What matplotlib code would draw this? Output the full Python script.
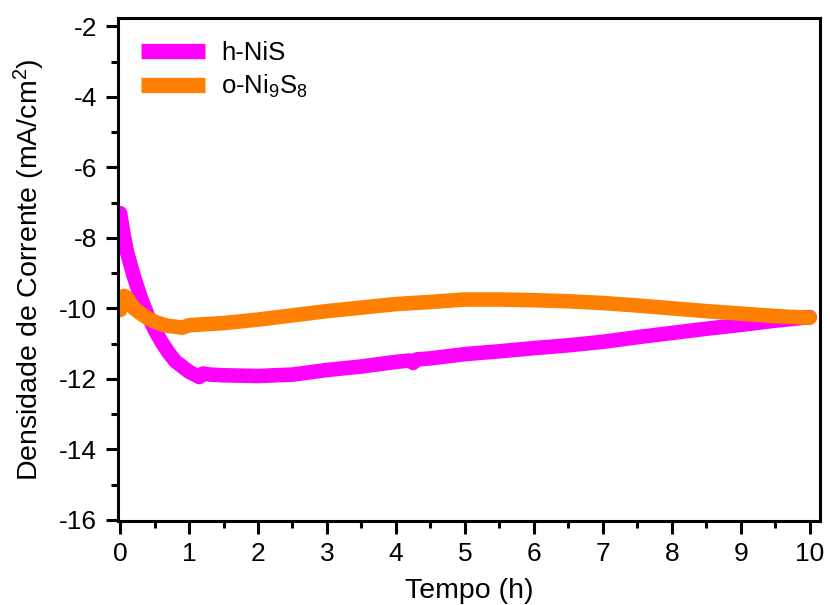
import matplotlib
matplotlib.use("Agg")
import matplotlib.pyplot as plt
from matplotlib.ticker import MultipleLocator

plt.rcParams['font.family'] = ['Liberation Sans', 'DejaVu Sans']
plt.rcParams['mathtext.fontset'] = 'custom'
plt.rcParams['mathtext.rm'] = 'Liberation Sans'
plt.rcParams['mathtext.it'] = 'Liberation Sans'
plt.rcParams['axes.unicode_minus'] = False

# h-NiS
t_nis = [0.0, 0.05, 0.1, 0.2, 0.3, 0.4, 0.5, 0.6, 0.7, 0.8, 0.9, 1.0, 1.1, 1.15, 1.2,
         1.3, 1.5, 2.0, 2.5, 3.0, 3.5, 4.0, 4.2, 4.25, 4.3, 4.5, 5.0, 5.5, 6.0, 6.5,
         7.0, 7.5, 8.0, 8.5, 9.0, 9.5, 10.0]
j_nis = [-7.3, -7.9, -8.4, -9.1, -9.7, -10.2, -10.6, -10.95, -11.25, -11.5, -11.65, -11.8,
         -11.9, -11.95, -11.85, -11.88, -11.9, -11.92, -11.88, -11.75, -11.65, -11.52, -11.48,
         -11.55, -11.45, -11.42, -11.3, -11.22, -11.13, -11.05, -10.95, -10.82, -10.7,
         -10.58, -10.47, -10.35, -10.25]

# o-Ni9S8
t_ni9s8 = [0.0, 0.03, 0.06, 0.1, 0.15, 0.2, 0.3, 0.4, 0.5, 0.6, 0.7, 0.8, 0.9, 1.0, 1.5,
           2.0, 2.5, 3.0, 3.5, 4.0, 4.5, 5.0, 5.5, 6.0, 6.5, 7.0, 7.5, 8.0, 8.5, 9.0,
           9.5, 10.0]
j_ni9s8 = [-10.05, -9.8, -9.65, -9.7, -9.85, -10.0, -10.15, -10.28, -10.38, -10.45, -10.5,
           -10.52, -10.55, -10.48, -10.42, -10.32, -10.2, -10.08, -9.98, -9.88, -9.82, -9.75,
           -9.75, -9.77, -9.8, -9.85, -9.92, -10.0, -10.08, -10.15, -10.22, -10.27]

labels = ['h-NiS', 'o-Ni$_9$S$_8$']
colors = ['#FF00FF', '#FF8000']

fig = plt.figure(figsize=(8.3, 6.05), dpi=100)
ax = fig.add_axes([0.1422, 0.139, 0.8458, 0.831])

ax.plot(t_nis, j_nis, color=colors[0], lw=10.5, solid_capstyle='round',
        solid_joinstyle='round', label=labels[0])
ax.plot(t_ni9s8, j_ni9s8, color=colors[1], lw=10.5, solid_capstyle='round',
        solid_joinstyle='round', label=labels[1])

ax.set_xlim(-0.03, 10.15)
ax.set_ylim(-16.03, -1.77)
ax.xaxis.set_major_locator(MultipleLocator(1))
ax.xaxis.set_minor_locator(MultipleLocator(0.5))
ax.yaxis.set_major_locator(MultipleLocator(2))
ax.yaxis.set_minor_locator(MultipleLocator(1))
ax.tick_params(which='major', direction='out', length=9, width=2.2, labelsize=19, pad=6)
ax.tick_params(which='minor', direction='out', length=5, width=2.2)
for s in ax.spines.values():
    s.set_linewidth(2.2)

ax.set_xlabel('Tempo (h)', fontsize=20.5, labelpad=9)
ax.set_ylabel('Densidade de Corrente (mA/cm$^2$)', fontsize=20.5, labelpad=9)

leg = ax.legend(loc='upper left', frameon=False, fontsize=18.5, handlelength=2.5,
                handletextpad=0.6, labelspacing=0.3, borderaxespad=0.5,
                bbox_to_anchor=(0.0, 1.0))
for h in leg.get_lines():
    h.set_linewidth(11)
    h.set_solid_capstyle('butt')

fig.savefig('out.png', dpi=100)
